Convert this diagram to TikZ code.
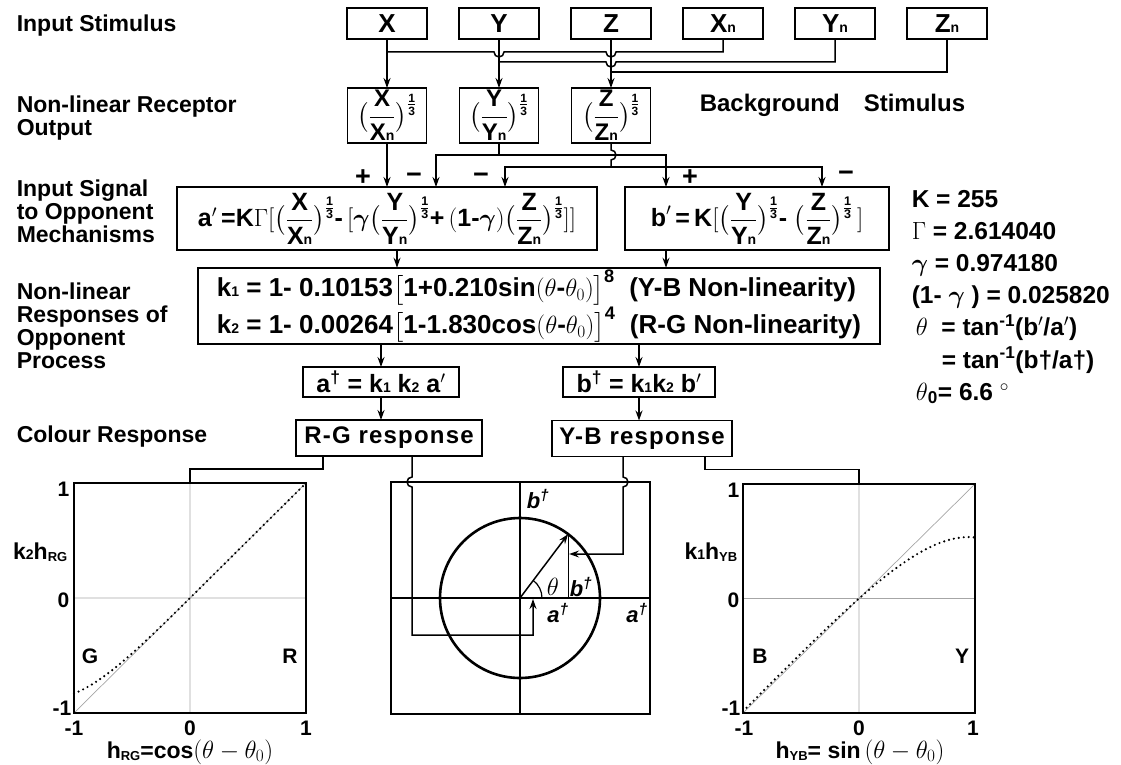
\documentclass[tikz,border=0pt]{standalone}
\usepackage{amsmath}
\usepackage[no-math]{fontspec}
\setmainfont{Liberation Sans}
\newfontfamily\widesans[LetterSpace=5]{Liberation Sans}
\usepackage{tikz}
\usetikzlibrary{arrows.meta,positioning,calc}
\newcommand{\lo}[1]{{\fontsize{14}{14}\selectfont #1}}
\newcommand{\dn}[1]{\raisebox{-2pt}{\fontsize{13}{13}\selectfont #1}}
\newcommand{\frx}[1]{\bigl(\dfrac{\text{#1}}{\text{#1\lo{n}}}\bigr)^{\frac{\text{1}}{\text{3}}}}

\begin{document}
\begin{tikzpicture}[
  x=1pt, y=-1pt,
  line width=1.5pt,
  font=\fontsize{22}{24}\selectfont\bfseries,
  box/.style={draw, line width=1.8pt, inner sep=2pt, outer sep=0pt, align=center},
  inbox/.style={box, minimum width=80pt, minimum height=31pt, font=\fontsize{26}{26}\selectfont\bfseries},
  recbox/.style={box, minimum width=79pt, minimum height=55pt, font=\fontsize{24}{24}\selectfont\bfseries},
  sigbox/.style={box, minimum height=63pt, font=\fontsize{25}{26}\selectfont\bfseries},
  dagbox/.style={box, minimum height=30pt, font=\fontsize{25}{25}\selectfont\bfseries},
  respbox/.style={box, minimum height=36pt, font=\fontsize{24}{24}\widesans\bfseries},
  lab/.style={anchor=west, inner sep=0pt, align=left, font=\fontsize{23}{23}\selectfont\bfseries},
  signlab/.style={font=\fontsize{27}{27}\selectfont\bfseries, inner sep=0pt, anchor=base},
  ticklab/.style={font=\fontsize{21}{21}\selectfont\bfseries, inner sep=0pt},
  daglab/.style={font=\fontsize{22}{22}\selectfont\bfseries\itshape, inner sep=0pt},
  arrow/.style={-{Stealth[length=10pt, width=7pt, inset=3.5pt]}},
  plotframe/.style={line width=1.8pt},
  zeroline/.style={line width=0.7pt, gray!70},
  dotcurve/.style={line width=2.4pt, line cap=round, dash pattern=on 0pt off 5pt}
]
\useasboundingbox (0,0) rectangle (1121,765);

% row labels
\node[lab] (lstim) at (16,26) {Input Stimulus};
\node[lab] (lrec) at (16,118) {Non-linear Receptor\\Output};
\node[lab] (lsig) at (16,211) {Input Signal\\to Opponent\\Mechanisms};
\node[lab] (lresp) at (16,326) {Non-linear\\Responses of\\Opponent\\Process};
\node[lab] (lcol) at (16,437) {Colour Response};
\node[lab, font=\fontsize{24}{24}\selectfont\bfseries] (lbg) at (699,105) {Background\hspace{24pt}Stimulus};

% stimulus boxes
\node[inbox] (X) at (387,23.5) {X};
\node[inbox, right=32pt of X] (Y) {Y};
\node[inbox, right=32pt of Y] (Z) {Z};
\node[inbox, right=32pt of Z] (Xn) {X\lo{n}};
\node[inbox, right=32pt of Xn] (Yn) {Y\lo{n}};
\node[inbox, right=32pt of Yn] (Zn) {Z\lo{n}};

% receptor boxes
\node[recbox, below=49pt of X] (recX) {$\frx{X}$};
\node[recbox, below=49pt of Y] (recY) {$\frx{Y}$};
\node[recbox, below=49pt of Z] (recZ) {$\frx{Z}$};

\draw[arrow] (X) -- (recX);
\draw[arrow] (Y) -- (recY);
\draw[arrow] (Z) -- (recZ);
\draw (Xn.south) |- (616,52) arc[start angle=0, end angle=180, radius=5]
  -- (504,52) arc[start angle=0, end angle=180, radius=5] -- (X.south |- 0,52);
\draw (Yn.south) |- (616,62) arc[start angle=0, end angle=180, radius=5] -- (Y.south |- 0,62);
\draw (Zn.south) |- (Z.south |- 0,72);

% opponent signal boxes
\node[sigbox, minimum width=420pt, below=44pt of recX] (asig)
  {$\text{a}'\,\text{=K}\Gamma[\frx{X}\text{-}\,[\boldsymbol{\gamma}\frx{Y}\text{+}\,(\text{1-}\boldsymbol{\gamma})\frx{Z}]]$};
\node[sigbox, minimum width=264pt, right=28pt of asig] (bsig)
  {$\text{b}'\,\text{=}\,\text{K}[\frx{Y}\text{-}\;\frx{Z}\,]$};

\draw[arrow] (recX) -- (recX |- asig.north);
\draw[arrow] (recY.south) |- (436,155) -- (asig.north -| 436,0);
\draw[arrow] (recY.south |- 0,155) -| (bsig.north -| 666,0);
\draw (recZ.south) -- (611,150) arc[start angle=-90, end angle=90, radius=5] -- (611,167);
\draw[arrow] (611,167) -| (asig.north -| 505,0);
\draw[arrow] (611,167) -| (bsig.north -| 822,0);

\node[signlab] at (363,185) {+};
\node[signlab] at (414,183) {−};
\node[signlab] at (481,183) {−};
\node[signlab] at (690,185) {+};
\node[signlab] at (846,181) {−};

% non-linearity box
\node[box, minimum width=682pt, minimum height=72pt, align=left, font=\fontsize{26}{32}\selectfont\bfseries] (nonlin) at (539,306)
  {k\lo{1} = 1- 0.10153$\bigl[$1+0.210sin$(\theta\text{-}\theta_0)\bigr]^{\text{8}}$\ \ (Y-B Non-linearity)\\
   k\lo{2} = 1- 0.00264$\bigl[$1-1.830cos$(\theta\text{-}\theta_0)\bigr]^{\text{4}}$\ \ (R-G Non-linearity)};
\draw[arrow] (asig.south -| 397,0) -- (nonlin.north -| 397,0);
\draw[arrow] (bsig.south -| 666,0) -- (nonlin.north -| 666,0);

\node[dagbox, minimum width=156pt] (adag) at (381,382) {a\textsuperscript{†} = k\lo{1} k\lo{2} a$'$};
\node[dagbox, minimum width=152pt] (bdag) at (639,382) {b\textsuperscript{†} = k\lo{1}k\lo{2} b$'$};
\draw[arrow] (nonlin.south -| adag) -- (adag);
\draw[arrow] (nonlin.south -| bdag) -- (bdag);

\node[respbox, minimum width=186pt] (rg) at (389,438) {R-G response};
\node[respbox, minimum width=180pt] (yb) at (642,438.5) {Y-B response};
\draw[arrow] (adag) -- (adag |- rg.north);
\draw[arrow] (bdag) -- (bdag |- yb.north);

% constants
\node[anchor=west, align=left, inner sep=0pt, font=\fontsize{24.5}{32.2}\selectfont\bfseries] (consts) at (911,297)
  {K = 255\\
   $\Gamma$ = 2.614040\\
   $\boldsymbol{\gamma}$ = 0.974180\\
   (1- $\boldsymbol{\gamma}$ ) = 0.025820\\
   \,$\theta$\ \ = tan\textsuperscript{-1}(b$'$/a$'$)\\
   \hspace{30pt}= tan\textsuperscript{-1}(b†/a†)\\
   \,$\theta$\textsubscript{0}= 6.6 $^{\circ}$};

% R-G plot
\begin{scope}[shift={(190,598)}, x=116pt, y=115pt]
  \draw[zeroline] (-1,0) -- (1,0) (0,-1) -- (0,1) (-1,-1) -- (1,1);
  \draw[dotcurve] plot[domain=-1:1, samples=41]
    (\x, {\x*(1-0.00264*((1-1.83*\x)*(1-1.83*\x))*((1-1.83*\x)*(1-1.83*\x)))});
  \draw[plotframe] (-1,-1) rectangle (1,1);
  \coordinate (ltop) at (0,1);
\end{scope}
\node[ticklab, anchor=east] at (70,489) {1};
\node[ticklab, anchor=east] at (70,600) {0};
\node[ticklab, anchor=east] at (72,708) {-1};
\node[ticklab] at (74,728) {-1};
\node[ticklab] at (190,728) {0};
\node[ticklab] at (306,728) {1};
\node[ticklab, anchor=east, font=\fontsize{23}{23}\selectfont\bfseries] at (68,552) {k\lo{2}h\dn{RG}};
\node[ticklab] at (90,656) {G};
\node[ticklab] at (290,656) {R};
\node[ticklab, font=\fontsize{23}{23}\selectfont\bfseries] at (190,752) {h\dn{RG}=cos$(\theta-\theta_0)$};
\draw (rg.south -| 323,0) -- ++(0,13) -| (ltop);

% Y-B plot
\begin{scope}[shift={(859,598.5)}, x=116pt, y=114.5pt]
  \draw[zeroline] (-1,0) -- (1,0) (0,-1) -- (0,1) (-1,-1) -- (1,1);
  \draw[dotcurve] plot[domain=-1:1, samples=41]
    (\x, {\x*(1-0.10153*((1+0.21*\x)^8))});
  \draw[plotframe] (-1,-1) rectangle (1,1);
  \coordinate (rtop) at (0,1);
\end{scope}
\node[ticklab, anchor=east] at (740,490) {1};
\node[ticklab, anchor=east] at (740,600) {0};
\node[ticklab, anchor=east] at (741,708) {-1};
\node[ticklab] at (744,728) {-1};
\node[ticklab] at (859,728) {0};
\node[ticklab] at (973,728) {1};
\node[ticklab, anchor=east, font=\fontsize{23}{23}\selectfont\bfseries] at (738,552) {k\lo{1}h\dn{YB}};
\node[ticklab] at (760,656) {B};
\node[ticklab] at (962,656) {Y};
\node[ticklab, font=\fontsize{23}{23}\selectfont\bfseries] at (860,752) {h\dn{YB}= sin\,$(\theta-\theta_0)$};
\draw (yb.south -| 705,0) -- ++(0,13) -| (rtop);

% colour circle
\draw[line width=1.6pt] (391,482) rectangle (650,714);
\coordinate (o) at (520,598);
\draw (o |- 0,482) -- (o |- 0,714);
\draw (o -| 391,0) -- (o -| 650,0);
\draw[line width=2.6pt] (o) circle[radius=80];
\coordinate (tip) at ($(o)+(-53:80)$);
\draw[arrow] (o) -- (tip);
\draw[line width=1.2pt] (tip) -- (tip |- o);
\draw[line width=1.2pt] ($(o)+(22,0)$) arc[start angle=0, end angle=-53, radius=22];
\node[daglab] at (538,499) {b\textsuperscript{†}};
\node[inner sep=0pt, font=\fontsize{24}{24}\selectfont] at (553,587) {$\theta$};
\node[daglab] at (581,587) {b\textsuperscript{†}};
\node[daglab] at (558,613) {a\textsuperscript{†}};
\node[daglab] at (637,613) {a\textsuperscript{†}};
\draw[arrow] (rg.south -| 412,0) -- (412,477) arc[start angle=-90, end angle=-270, radius=5]
  -- (412,635) -| ($(o)+(13,1)$);
\draw[arrow] (yb.south -| 623,0) -- (623,477) arc[start angle=-90, end angle=90, radius=5]
  -- (623,554) -- ($(tip |- 0,554)+(1,0)$);
\end{tikzpicture}
\end{document}
